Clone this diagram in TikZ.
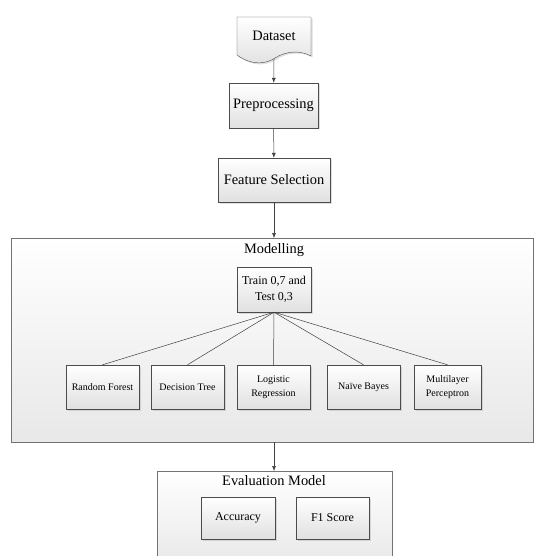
\documentclass[tikz,border=0pt]{standalone}
\usepackage{fontspec}
\setmainfont{Liberation Serif}
\newfontfamily\diagfont{Liberation Serif}
\usetikzlibrary{shadows,arrows.meta}

\tikzset{
  flowbox/.style={draw=black!70, top color=white, bottom color=black!12,
    drop shadow={shadow xshift=1.5pt, shadow yshift=-1.5pt, opacity=.25},
    inner sep=2pt, align=center, font=\diagfont\fontsize{14.4}{17}\selectfont},
  algbox/.style={flowbox, minimum width=73pt, minimum height=44pt,
    font=\diagfont\fontsize{10}{14}\selectfont},
  groupbox/.style={draw=black!55, top color=white, bottom color=black!9,
    anchor=north west},
  title/.style={font=\diagfont\fontsize{14.4}{17}\selectfont},
  link/.style={draw=black!75, line width=0.5pt},
  flow/.style={link, -{Latex[length=5pt,width=4pt]}}
}

\begin{document}
\begin{tikzpicture}[x=1pt, y=-1pt]
        \useasboundingbox (0,0) rectangle (534,556);
        % input and preparation
        \path[flowbox] (237,17) -- (311,17) -- (311,56)
          .. controls (300,50) and (286,51) .. (275,58)
          .. controls (266,64) and (252,66) .. (237,55) -- cycle;
        \node[title, minimum height=38pt] (data) at (274,36) {Dataset};
        \node[flowbox, minimum width=89pt, minimum height=45pt] (prep) at (273.5,105.5) {Preprocessing};
        \node[flowbox, minimum width=112pt, minimum height=44pt] (feat) at (274,180) {Feature Selection};
        % modelling group
        \node[groupbox, minimum width=522pt, minimum height=204pt] (model) at (11,238) {};
        \node[title] (modeltitle) at (274,250) {Modelling};
        \node[flowbox, minimum width=74pt, minimum height=45pt, font=\diagfont\fontsize{12}{16}\selectfont] (split) at (274,289.5) {Train 0,7 and\\Test 0,3};
        \node[algbox] (rf) at (102.5,387) {Random Forest};
        \node[algbox] (dt) at (187.5,387) {Decision Tree};
        \node[algbox] (lr) at (273.5,387) {Logistic\\Regression};
        \node[algbox] (nb) at (363.5,387) {Naïve Bayes};
        \node[algbox, minimum width=67pt] (mlp) at (447.5,387) {Multilayer\\Perceptron};
        % evaluation group
        \node[groupbox, minimum width=235pt, minimum height=95pt] (eval) at (157,471) {};
        \node[title] (evaltitle) at (274,481) {Evaluation Model};
        \node[flowbox, minimum width=74pt, minimum height=42pt, font=\diagfont\fontsize{12}{15}\selectfont] (acc) at (238,518) {Accuracy};
        \node[flowbox, minimum width=73pt, minimum height=42pt, font=\diagfont\fontsize{12}{15}\selectfont] (fone) at (332.5,518) {F1 Score};
        % connectors
        \draw[flow] ([yshift=-4pt]data.south) -- (prep);
        \draw[flow] (prep) -- (feat);
        \draw[flow] (feat.south) -- (feat.south |- model.north);
        \foreach \alg in {rf, dt, lr, nb, mlp}
          \draw[link] (split.south) -- (\alg.north);
        \draw[flow] (modeltitle.south |- model.south) -- (modeltitle.south |- eval.north);
\end{tikzpicture}
\end{document}
